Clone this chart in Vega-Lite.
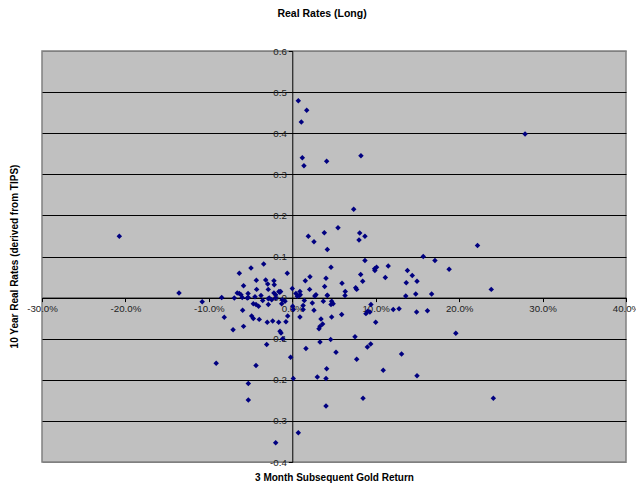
{
  "$schema": "https://vega.github.io/schema/vega-lite/v6.json",
  "autosize": "none",
  "width": 584,
  "height": 411,
  "padding": {"left": 42, "top": 51, "right": 10, "bottom": 24},
  "background": "white",
  "title": {"text": "Real Rates (Long)", "font": "Liberation Sans", "fontSize": 10.5, "fontWeight": "bold", "color": "black", "offset": 27, "dx": -12},
  "config": {
    "view": {"fill": "#C0C0C0", "stroke": "#808080", "strokeWidth": 1.5},
    "axis": {"labelFont": "Liberation Sans", "labelFontSize": 9.7, "labelColor": "#222222", "titleFont": "Liberation Sans", "titleFontSize": 10, "titleFontWeight": "bold", "titleColor": "black", "domainColor": "black", "tickColor": "black", "tickSize": 4, "labelPadding": 2, "labelOverlap": false, "labelFlush": false}
  },
  "data": {"values": [
    {"ret": 0.0072, "rate": 0.479}, {"ret": 0.0173, "rate": 0.456}, {"ret": 0.0108, "rate": 0.427},
    {"ret": 0.012, "rate": 0.340}, {"ret": 0.014, "rate": 0.321}, {"ret": 0.0412, "rate": 0.332},
    {"ret": 0.0823, "rate": 0.345}, {"ret": 0.279, "rate": 0.398}, {"ret": -0.2073, "rate": 0.149},
    {"ret": 0.0736, "rate": 0.215}, {"ret": 0.0192, "rate": 0.149}, {"ret": 0.026, "rate": 0.136},
    {"ret": 0.0384, "rate": 0.158}, {"ret": 0.042, "rate": 0.117}, {"ret": 0.0548, "rate": 0.170},
    {"ret": 0.0808, "rate": 0.157}, {"ret": 0.080, "rate": 0.140}, {"ret": 0.0871, "rate": 0.149},
    {"ret": 0.0871, "rate": 0.090}, {"ret": 0.0464, "rate": 0.074}, {"ret": -0.006, "rate": 0.059},
    {"ret": 0.0212, "rate": 0.051}, {"ret": 0.0156, "rate": 0.041}, {"ret": 0.0404, "rate": 0.047},
    {"ret": 0.0388, "rate": 0.027}, {"ret": 0.0208, "rate": 0.020}, {"ret": 0.0596, "rate": 0.035},
    {"ret": 0.0635, "rate": 0.015}, {"ret": 0.0632, "rate": 0.005}, {"ret": 0.076, "rate": 0.024},
    {"ret": 0.0772, "rate": 0.020}, {"ret": 0.082, "rate": 0.056}, {"ret": 0.0844, "rate": 0.040},
    {"ret": 0.099, "rate": 0.066}, {"ret": 0.0987, "rate": 0.070}, {"ret": 0.101, "rate": 0.074},
    {"ret": 0.1115, "rate": 0.049}, {"ret": 0.115, "rate": 0.077}, {"ret": 0.1366, "rate": 0.036},
    {"ret": 0.138, "rate": 0.066}, {"ret": 0.1438, "rate": 0.054}, {"ret": 0.1495, "rate": 0.040},
    {"ret": 0.157, "rate": 0.100}, {"ret": 0.171, "rate": 0.090}, {"ret": 0.188, "rate": 0.069},
    {"ret": 0.222, "rate": 0.127}, {"ret": 0.2385, "rate": 0.020}, {"ret": 0.136, "rate": 0.004},
    {"ret": 0.148, "rate": 0.009}, {"ret": 0.167, "rate": 0.009}, {"ret": 0.0, "rate": 0.022},
    {"ret": -0.015, "rate": 0.013}, {"ret": 0.0044, "rate": 0.010}, {"ret": 0.0092, "rate": 0.015},
    {"ret": 0.006, "rate": 0.003}, {"ret": 0.0084, "rate": 0.005}, {"ret": 0.0284, "rate": 0.007},
    {"ret": 0.027, "rate": 0.004}, {"ret": 0.042, "rate": 0.006}, {"ret": -0.1358, "rate": 0.011},
    {"ret": -0.0635, "rate": 0.059}, {"ret": -0.0495, "rate": 0.072}, {"ret": -0.0343, "rate": 0.082},
    {"ret": -0.0431, "rate": 0.042}, {"ret": -0.0319, "rate": 0.043}, {"ret": -0.0295, "rate": 0.033},
    {"ret": -0.0216, "rate": 0.031}, {"ret": -0.066, "rate": 0.011}, {"ret": -0.0635, "rate": 0.010},
    {"ret": -0.053, "rate": 0.010}, {"ret": -0.0427, "rate": 0.020}, {"ret": -0.0288, "rate": 0.020},
    {"ret": -0.016, "rate": 0.015}, {"ret": -0.014, "rate": 0.015}, {"ret": -0.022, "rate": 0.011},
    {"ret": -0.020, "rate": 0.007}, {"ret": 0.0096, "rate": 0.007}, {"ret": -0.0846, "rate": 0.0},
    {"ret": -0.0695, "rate": -0.001}, {"ret": -0.060, "rate": 0.0}, {"ret": -0.054, "rate": -0.001},
    {"ret": -0.0447, "rate": 0.002}, {"ret": -0.0375, "rate": 0.005}, {"ret": -0.0276, "rate": -0.001},
    {"ret": -0.0199, "rate": -0.001}, {"ret": -0.0584, "rate": 0.029}, {"ret": -0.022, "rate": 0.041},
    {"ret": -0.0615, "rate": 0.007}, {"ret": -0.0527, "rate": 0.0}, {"ret": -0.0595, "rate": -0.031},
    {"ret": -0.0435, "rate": -0.017}, {"ret": -0.0404, "rate": -0.021}, {"ret": -0.0467, "rate": -0.015},
    {"ret": -0.0355, "rate": -0.007}, {"ret": -0.0287, "rate": -0.003}, {"ret": -0.0287, "rate": -0.017},
    {"ret": -0.0247, "rate": -0.005}, {"ret": -0.012, "rate": -0.005}, {"ret": -0.0127, "rate": -0.015},
    {"ret": -0.0087, "rate": -0.009}, {"ret": 0.0005, "rate": -0.021}, {"ret": 0.0012, "rate": -0.029},
    {"ret": -0.0055, "rate": -0.045}, {"ret": -0.0487, "rate": -0.045}, {"ret": -0.0467, "rate": -0.051},
    {"ret": -0.0396, "rate": -0.053}, {"ret": -0.030, "rate": -0.060}, {"ret": -0.0235, "rate": -0.057},
    {"ret": -0.0163, "rate": -0.060}, {"ret": -0.0076, "rate": -0.059}, {"ret": 0.0092, "rate": -0.047},
    {"ret": 0.013, "rate": -0.019}, {"ret": 0.013, "rate": -0.029}, {"ret": 0.026, "rate": -0.031},
    {"ret": 0.0344, "rate": -0.052}, {"ret": 0.0364, "rate": -0.064}, {"ret": 0.032, "rate": -0.076},
    {"ret": 0.0332, "rate": -0.070}, {"ret": 0.0472, "rate": -0.047}, {"ret": 0.0592, "rate": -0.041},
    {"ret": -0.0147, "rate": -0.082}, {"ret": -0.0135, "rate": -0.086}, {"ret": -0.0115, "rate": -0.100},
    {"ret": -0.0584, "rate": -0.070}, {"ret": -0.0307, "rate": -0.114}, {"ret": 0.0164, "rate": -0.124},
    {"ret": 0.0332, "rate": -0.108}, {"ret": 0.046, "rate": -0.102}, {"ret": 0.0524, "rate": -0.133},
    {"ret": 0.0752, "rate": -0.095}, {"ret": 0.0772, "rate": -0.150}, {"ret": -0.002, "rate": -0.145},
    {"ret": -0.0435, "rate": -0.165}, {"ret": 0.0412, "rate": -0.173}, {"ret": 0.0012, "rate": -0.197},
    {"ret": 0.030, "rate": -0.193}, {"ret": 0.0404, "rate": -0.197}, {"ret": -0.0527, "rate": -0.209},
    {"ret": -0.0527, "rate": -0.249}, {"ret": 0.0404, "rate": -0.264}, {"ret": 0.0072, "rate": -0.329},
    {"ret": -0.0199, "rate": -0.353}, {"ret": -0.108, "rate": -0.010}, {"ret": -0.0815, "rate": -0.048},
    {"ret": 0.0144, "rate": -0.007}, {"ret": 0.024, "rate": -0.013}, {"ret": 0.0372, "rate": -0.009},
    {"ret": 0.042, "rate": 0.005}, {"ret": 0.0472, "rate": -0.009}, {"ret": 0.0464, "rate": -0.017},
    {"ret": 0.049, "rate": -0.015}, {"ret": 0.0943, "rate": -0.017}, {"ret": 0.0904, "rate": -0.033},
    {"ret": 0.093, "rate": -0.035}, {"ret": 0.0883, "rate": -0.039}, {"ret": 0.121, "rate": -0.029},
    {"ret": 0.128, "rate": -0.027}, {"ret": 0.149, "rate": -0.035}, {"ret": 0.162, "rate": -0.032},
    {"ret": -0.0912, "rate": -0.160}, {"ret": 0.196, "rate": -0.087}, {"ret": 0.241, "rate": -0.245},
    {"ret": 0.0848, "rate": -0.245}, {"ret": 0.1495, "rate": -0.190}, {"ret": 0.109, "rate": -0.177},
    {"ret": 0.090, "rate": -0.120}, {"ret": 0.094, "rate": -0.113}, {"ret": 0.131, "rate": -0.137},
    {"ret": 0.100, "rate": -0.060}, {"ret": -0.071, "rate": -0.078}
  ]},
  "mark": {"type": "point", "shape": "diamond", "filled": true, "size": 30, "color": "#000080", "opacity": 1, "strokeWidth": 0},
  "encoding": {
    "x": {
      "field": "ret", "type": "quantitative",
      "scale": {"domain": [-0.3, 0.4], "nice": false, "zero": false},
      "axis": {
        "values": [-0.3, -0.2, -0.1, 0, 0.1, 0.2, 0.3, 0.4],
        "format": ".1%",
        "labelExpr": "replace(datum.label, '\u2212', '-')",
        "offset": -164.4,
        "grid": false,
        "title": "3 Month Subsequent Gold Return",
        "titleX": 292, "titleY": 180, "titleBaseline": "middle", "titleAlign": "center"
      }
    },
    "y": {
      "field": "rate", "type": "quantitative",
      "scale": {"domain": [-0.4, 0.6], "nice": false, "zero": false},
      "axis": {
        "values": [-0.4, -0.3, -0.2, -0.1, 0, 0.1, 0.2, 0.3, 0.4, 0.5, 0.6],
        "format": ".1f",
        "labelExpr": "replace(datum.label, '\u2212', '-')",
        "offset": -250.29,
        "grid": true,
        "gridColor": {"condition": {"test": "datum.value >= 0.59 || datum.value <= -0.39", "value": "#808080"}, "value": "black"},
        "gridOpacity": 1,
        "title": "10 Year Real Rates (derived from TIPS)",
        "titleX": -278, "titleY": 205, "titleBaseline": "middle", "titleAlign": "center", "titleAngle": 270
      }
    }
  }
}
